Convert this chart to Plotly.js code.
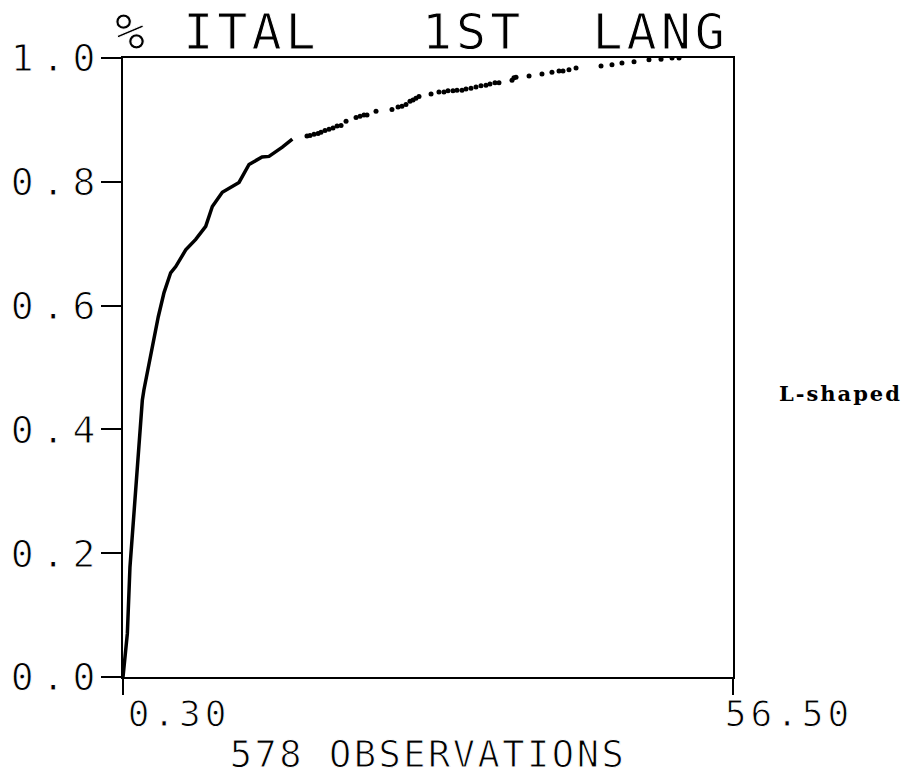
<!DOCTYPE html>
<html>
<head>
<meta charset="utf-8">
<script src="https://cdn.plot.ly/plotly-3.0.1.min.js"></script>
<style>
  html, body { margin: 0; padding: 0; background: #fff; }
  #chart { width: 908px; height: 776px; }
  /* plotter-style lettering: thin strokes, wide character cells */
  .gtitle, g.ytick text, g.xtick text, text.xtitle {
    stroke: #fff; stroke-width: 1px;
  }
  .gtitle { letter-spacing: 4px; }
  g.ytick text { letter-spacing: 8px; }
  g.xtick text { letter-spacing: 4px; }
  text.xtitle { letter-spacing: 2.5px; }
  text.annotation-text { letter-spacing: 2px; }
</style>
</head>
<body>
<div id="chart"></div>
<script>
// Empirical cumulative distribution of % Italian as first language (578 observations)

// dense lower part of the curve (drawn as a continuous line)
const cdfX = [0.30, 0.70, 0.94, 1.16, 1.38, 1.62, 1.84, 2.08, 2.23, 2.63, 3.09, 3.55,
              4.08, 4.69, 5.16, 6.08, 7.00, 7.92, 8.53, 9.45, 10.99, 11.60, 11.91,
              13.11, 13.75, 14.98, 15.90];
const cdfY = [0.000, 0.070, 0.177, 0.232, 0.285, 0.339, 0.394, 0.447, 0.464, 0.501,
              0.545, 0.582, 0.621, 0.653, 0.663, 0.690, 0.707, 0.728, 0.760, 0.783,
              0.799, 0.820, 0.828, 0.840, 0.841, 0.856, 0.869];

// sparse upper tail (individual plotted points)
const tailX = [17.25, 17.53, 17.90, 18.27, 18.54, 18.91, 19.28, 19.65, 20.02, 20.39,
               20.85, 21.77, 22.14, 22.50, 22.78, 23.61, 25.08, 25.64, 26.00, 26.37,
               26.74, 27.02, 27.29, 27.57, 28.68, 29.41, 29.87, 30.24, 30.70, 31.07,
               31.53, 31.90, 32.36, 32.82, 33.28, 33.74, 34.11, 34.57, 34.94, 36.14,
               36.32, 36.51, 37.71, 38.90, 39.82, 40.47, 40.84, 41.39, 42.04, 44.34,
               45.35, 46.27, 47.38, 48.76, 49.87, 50.88, 51.53];
const tailY = [0.874, 0.875, 0.877, 0.878, 0.880, 0.883, 0.885, 0.887, 0.890, 0.891,
               0.898, 0.904, 0.906, 0.908, 0.908, 0.914, 0.917, 0.921, 0.922, 0.925,
               0.930, 0.932, 0.935, 0.938, 0.942, 0.945, 0.945, 0.947, 0.947, 0.948,
               0.948, 0.950, 0.951, 0.953, 0.955, 0.956, 0.958, 0.960, 0.960, 0.964,
               0.968, 0.969, 0.971, 0.974, 0.977, 0.979, 0.979, 0.981, 0.984, 0.987,
               0.989, 0.992, 0.994, 0.997, 0.998, 1.000, 1.000];

// axis ticks
const xTickVals = [0.30, 56.50];
const xTickText = ['0.30', '56.50'];
const yTickVals = [0.0, 0.2, 0.4, 0.6, 0.8, 1.0];
const yTickText = ['0.0', '0.2', '0.4', '0.6', '0.8', '1.0'];

const titleText = '% ITAL   1ST  LANG';
const xTitleText = '578 OBSERVATIONS';
const noteText = 'L-shaped';

const plotter = 'DejaVu Sans Mono';

const traces = [
  {
    x: cdfX, y: cdfY, type: 'scatter', mode: 'lines',
    line: { color: '#000', width: 3.5 },
    hoverinfo: 'skip', showlegend: false
  },
  {
    x: tailX, y: tailY, type: 'scatter', mode: 'markers',
    marker: { color: '#000', size: 5 },
    hoverinfo: 'skip', showlegend: false
  }
];

const layout = {
  width: 908, height: 776,
  margin: { l: 123, r: 175, t: 58, b: 99 },
  paper_bgcolor: '#fff', plot_bgcolor: '#fff',
  showlegend: false,
  title: {
    text: titleText,
    font: { family: plotter, size: 50, color: '#000' },
    xref: 'container', x: 115 / 908, xanchor: 'left',
    yref: 'container', y: 1 - 31 / 776, yanchor: 'middle'
  },
  xaxis: {
    range: [xTickVals[0], xTickVals[1]],
    tickmode: 'array', tickvals: xTickVals, ticktext: xTickText,
    ticks: 'outside', ticklen: 16, tickwidth: 2, tickcolor: '#000',
    ticklabelshift: 56, ticklabelstandoff: -12,
    tickfont: { family: plotter, size: 36, color: '#000' },
    showline: true, linecolor: '#000', linewidth: 2, mirror: true,
    showgrid: false, zeroline: false, fixedrange: true,
    title: {
      text: xTitleText, standoff: 14,
      font: { family: plotter, size: 37, color: '#000' }
    }
  },
  yaxis: {
    range: [0, 1],
    tickmode: 'array', tickvals: yTickVals, ticktext: yTickText,
    ticks: 'outside', ticklen: 20, tickwidth: 2, tickcolor: '#000',
    ticklabelstandoff: -10,
    tickfont: { family: plotter, size: 38, color: '#000' },
    showline: true, linecolor: '#000', linewidth: 2, mirror: true,
    showgrid: false, zeroline: false, fixedrange: true
  },
  annotations: [
    {
      text: noteText, xref: 'paper', yref: 'paper',
      x: (840 - 123) / (733 - 123), y: (677 - 393) / (677 - 58),
      xanchor: 'center', yanchor: 'middle', showarrow: false,
      font: { family: 'DejaVu Serif', size: 21, color: '#000', weight: 'bold' }
    }
  ]
};

Plotly.newPlot('chart', traces, layout, { staticPlot: true, displayModeBar: false });
</script>
</body>
</html>
